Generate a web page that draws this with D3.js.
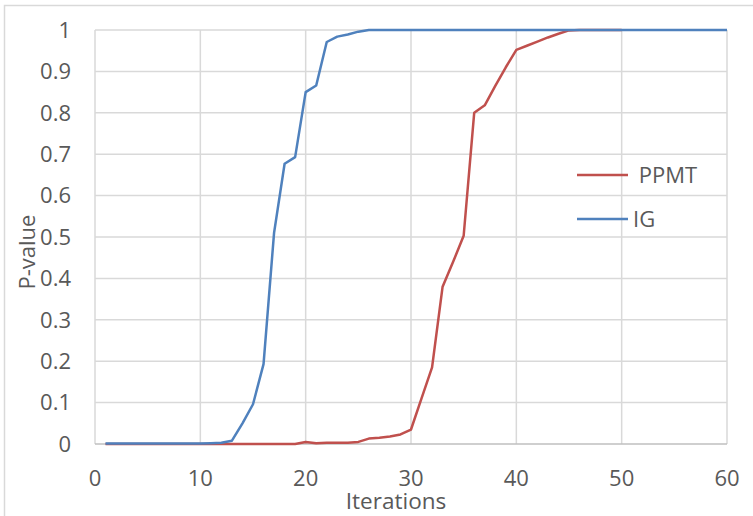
<html>
<head>
<script src="https://d3js.org/d3.v7.min.js"></script>
<style>
  body { margin: 0; background: #fff; }
  text { font-family: "Open Sans", sans-serif; fill: #595959; }
</style>
</head>
<body>
<svg width="753" height="516" id="chart"></svg>
<script>
// data
var iterations = [1,2,3,4,5,6,7,8,9,10,11,12,13,14,15,16,17,18,19,20,
  21,22,23,24,25,26,27,28,29,30,31,32,33,34,35,36,37,38,39,40,
  41,42,43,44,45,46,47,48,49,50,51,52,53,54,55,56,57,58,59,60];

var ppmt = [0,0,0,0,0,0,0,0,0,0,0,0,0,0,0,0,0,0,0,0.005,
  0.002,0.003,0.003,0.003,0.005,0.013,0.015,0.018,0.023,0.035,
  0.11,0.185,0.38,0.44,0.503,0.80,0.818,0.865,0.91,0.952,
  0.962,0.972,0.982,0.991,0.999,1,1,1,1,1];

var ig = [0.001,0.001,0.001,0.001,0.001,0.001,0.001,0.001,0.001,0.001,
  0.002,0.003,0.008,0.05,0.096,0.193,0.51,0.677,0.693,0.85,
  0.866,0.971,0.984,0.989,0.996,1,1,1,1,1,
  1,1,1,1,1,1,1,1,1,1,1,1,1,1,1,1,1,1,1,1,
  1,1,1,1,1,1,1,1,1,1];

var seriesNames = [" PPMT", "IG"];
var seriesColors = ["#C0504D", "#4F81BD"];
var xTicks = [0,10,20,30,40,50,60];
var yTicks = [0,0.1,0.2,0.3,0.4,0.5,0.6,0.7,0.8,0.9,1];

var svg = d3.select("#chart");

var x = d3.scaleLinear().domain([0,60]).range([95,727]);
var y = d3.scaleLinear().domain([0,1]).range([444,30]);

// outer chart border
svg.append("rect")
  .attr("x",4.5).attr("y",5.5).attr("width",760).attr("height",520)
  .attr("fill","none").attr("stroke","#d9d9d9").attr("stroke-width",1.5);

// grid
svg.append("g").selectAll("line").data(yTicks.slice(1)).enter().append("line")
  .attr("x1",x(0)).attr("x2",x(60))
  .attr("y1",function(d){return y(d);}).attr("y2",function(d){return y(d);})
  .attr("stroke","#d9d9d9").attr("stroke-width",1.5);

svg.append("g").selectAll("line").data(xTicks).enter().append("line")
  .attr("y1",y(0)).attr("y2",y(1))
  .attr("x1",function(d){return x(d);}).attr("x2",function(d){return x(d);})
  .attr("stroke","#d9d9d9").attr("stroke-width",1.5);

// x axis baseline
svg.append("line")
  .attr("x1",x(0)).attr("x2",x(60)).attr("y1",y(0)).attr("y2",y(0))
  .attr("stroke","#bfbfbf").attr("stroke-width",1.5);

// tick labels
svg.append("g").selectAll("text").data(yTicks).enter().append("text")
  .attr("x",71).attr("y",function(d){return y(d);})
  .attr("dy","0.35em")
  .attr("text-anchor","end")
  .style("font-size","22px")
  .text(function(d){return d3.format("~g")(d);});

svg.append("g").selectAll("text").data(xTicks).enter().append("text")
  .attr("x",function(d){return x(d);}).attr("y",486)
  .attr("text-anchor","middle")
  .style("font-size","22px")
  .text(function(d){return d;});

// axis titles
svg.append("text")
  .attr("transform","translate(35,252) rotate(-90)")
  .attr("text-anchor","middle")
  .style("font-size","22px")
  .text("P-value");

svg.append("text")
  .attr("x",396).attr("y",509)
  .attr("text-anchor","middle")
  .style("font-size","22.5px")
  .text("Iterations");

// lines
var line = d3.line()
  .x(function(d){return x(d[0]);})
  .y(function(d){return y(d[1]);});

var series = [ppmt, ig];
series.forEach(function(vals, i){
  svg.append("path")
    .datum(vals.map(function(v,j){return [iterations[j], v];}))
    .attr("d", line)
    .attr("fill","none")
    .attr("stroke", seriesColors[i])
    .attr("stroke-width",2.5)
    .attr("stroke-linejoin","round");
});

// legend
var legend = svg.append("g").selectAll("g").data(seriesNames).enter().append("g")
  .attr("transform",function(d,i){return "translate(577,"+(175+i*44)+")";});

legend.append("line")
  .attr("x1",0).attr("x2",51).attr("y1",0).attr("y2",0)
  .attr("stroke",function(d,i){return seriesColors[i];})
  .attr("stroke-width",2.5);

legend.append("text")
  .attr("x",56).attr("y",0).attr("dy","0.35em")
  .style("font-size","22px")
  .style("white-space","pre")
  .text(function(d){return d;});
</script>
</body>
</html>
